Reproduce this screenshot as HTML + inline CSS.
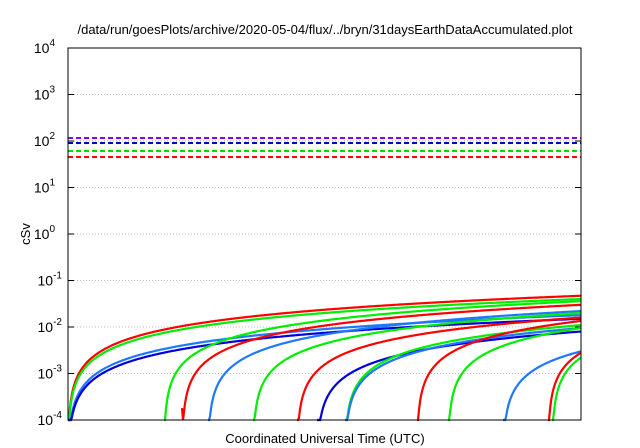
<!DOCTYPE html>
<html><head><meta charset="utf-8"><style>
body{margin:0;background:#fff}
svg{display:block;font-family:"Liberation Sans",sans-serif}
</style></head><body>
<svg id="s" width="640" height="448" viewBox="0 0 640 448">
<rect width="640" height="448" fill="#fff"/>
<text x="325" y="34" font-size="13" text-anchor="middle">/data/run/goesPlots/archive/2020-05-04/flux/../bryn/31daysEarthDataAccumulated.plot</text>
<g id="grid" stroke="#bbb" stroke-dasharray="1,2" stroke-width="1"></g>
<g id="labels" font-size="14" text-anchor="end"></g>
<text transform="translate(30,234) rotate(-90)" font-size="13" text-anchor="middle">cSv</text>
<text x="325" y="443" font-size="13" text-anchor="middle">Coordinated Universal Time (UTC)</text>
<g stroke-width="2" stroke-dasharray="5,3">
<line x1="68" x2="581" y1="138" y2="138" stroke="#9400d3"/>
<line x1="68" x2="581" y1="143" y2="143" stroke="#0000cc"/>
<line x1="68" x2="581" y1="151" y2="151" stroke="#00dd00"/>
<line x1="68" x2="581" y1="157" y2="157" stroke="#ff0000"/>
</g>
<g id="curves" fill="none" stroke-width="2.2"></g>
<rect x="68" y="48" width="513" height="372" fill="none" stroke="#000" stroke-width="1"/>
</svg>
<script>
(function(){
var pTop=48,pBot=420,dec=(pBot-pTop)/8;
function Y(d){return pBot-dec*(Math.log10(d)+4);}
var h='',lb='';
for(var e=-4;e<=4;e++){var y=pBot-dec*(e+4);
 if(e>-4&&e<4)h+='<line x1="68" x2="581" y1="'+y+'" y2="'+y+'"/>';
 lb+='<line x1="68" x2="74" y1="'+y+'" y2="'+y+'" stroke="#000"/><line x1="575" x2="581" y1="'+y+'" y2="'+y+'" stroke="#000"/>';
 lb+='<text x="'+(e<0?62:55)+'" y="'+(y+5)+'">10<tspan dy="-7" font-size="10">'+e+'</tspan></text>';}
document.getElementById('grid').innerHTML=h;
document.getElementById('labels').innerHTML=lb;
var R='#ff0000',G='#00ee00',L='#1e78ff',B='#0000dd';
var cs=[[68,0.047,R],[68,0.040,G],[68,0.018,L],[68,0.015,B],
[164,0.036,G],[182,0.030,R],[208,0.022,L],[253,0.020,G],[297,0.016,R],
[317,0.0080,B],[345,0.0110,G],[345,0.0095,L],[417,0.0135,R],[448,0.0095,G],
[503,0.0030,L],[548,0.0028,R],[552,0.0022,G]];
var c='';
cs.forEach(function(k){var x0=k[0],r=k[1]/(581-x0),p='';
 for(var x=x0;x<=581;x+=1){var d=r*(x-x0);if(d<1e-4)d=1e-4;if(x==x0&&x0==182)d=1.8e-4;
  var y=Y(d);if(y>pBot)y=pBot;p+=(p?'L':'M')+x+' '+y.toFixed(1);}
 c+='<path d="'+p+'" stroke="'+k[2]+'"/>';});
document.getElementById('curves').innerHTML=c;
})();
</script>
</body></html>
